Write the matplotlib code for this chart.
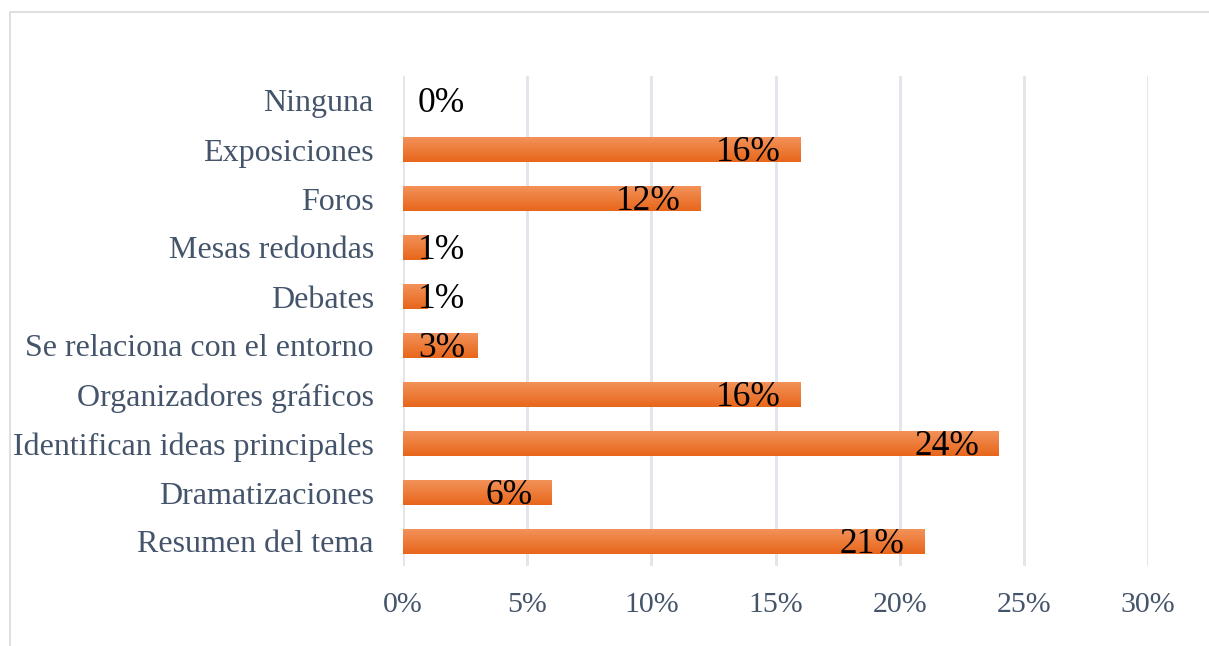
import matplotlib.pyplot as plt
import numpy as np
from matplotlib.colors import LinearSegmentedColormap
from matplotlib.patches import Rectangle
from matplotlib.ticker import FuncFormatter

categories = [
    "Resumen del tema",
    "Dramatizaciones",
    "Identifican ideas principales",
    "Organizadores gráficos",
    "Se relaciona con el entorno",
    "Debates",
    "Mesas redondas",
    "Foros",
    "Exposiciones",
    "Ninguna",
]
values = [21, 6, 24, 16, 3, 1, 1, 12, 16, 0]
x_ticks = [0, 5, 10, 15, 20, 25, 30]

plt.rcParams["font.family"] = ["Liberation Serif", "DejaVu Serif"]

fig = plt.figure(figsize=(12.09, 6.46), dpi=100)
ax = fig.add_axes([403 / 1209, 80 / 646, 745 / 1209, 490 / 646])

y = np.arange(len(categories))
bars = ax.barh(y, values, height=0.51, color="#EE7A33", zorder=2)

# vertical gradient like the original
cmap = LinearSegmentedColormap.from_list("og", ["#E8661B", "#F29259"])
grad = np.linspace(0, 1, 64).reshape(-1, 1)
for b in bars:
    x0, y0 = b.get_x(), b.get_y()
    w, h = b.get_width(), b.get_height()
    if w <= 0:
        continue
    im = ax.imshow(grad, cmap=cmap, aspect="auto", origin="lower",
                   extent=[x0, x0 + w, y0, y0 + h], zorder=3)
    im.set_clip_path(b)

for yi, v in zip(y, values):
    ax.text(max(v - 0.8, 2.5), yi - 0.07, f"{v}%", ha="right", va="center",
            fontsize=25.5, color="black", zorder=4)

ax.set_xlim(0, 30)
ax.set_ylim(-0.5, len(categories) - 0.5)
ax.set_xticks(x_ticks)
ax.xaxis.set_major_formatter(FuncFormatter(lambda v, p: f"{v:.0f}%"))
ax.set_yticks(y)
ax.set_yticklabels(categories, fontsize=23)
ax.tick_params(axis="both", length=0, colors="#44546A")
ax.tick_params(axis="x", labelsize=21.5, pad=19)
ax.tick_params(axis="y", pad=21)
ax.grid(axis="x", color="#E1E4EA", linewidth=2, zorder=0)
ax.set_axisbelow(True)
for s in ax.spines.values():
    s.set_visible(False)

# light chart-area border
fig.patches.append(Rectangle((10 / 1209, -0.1), 1.2, (646 - 12) / 646 + 0.1,
                             transform=fig.transFigure, fill=False,
                             edgecolor="#D9D9D9", linewidth=1.2))

fig.savefig("out.png", dpi=100)
